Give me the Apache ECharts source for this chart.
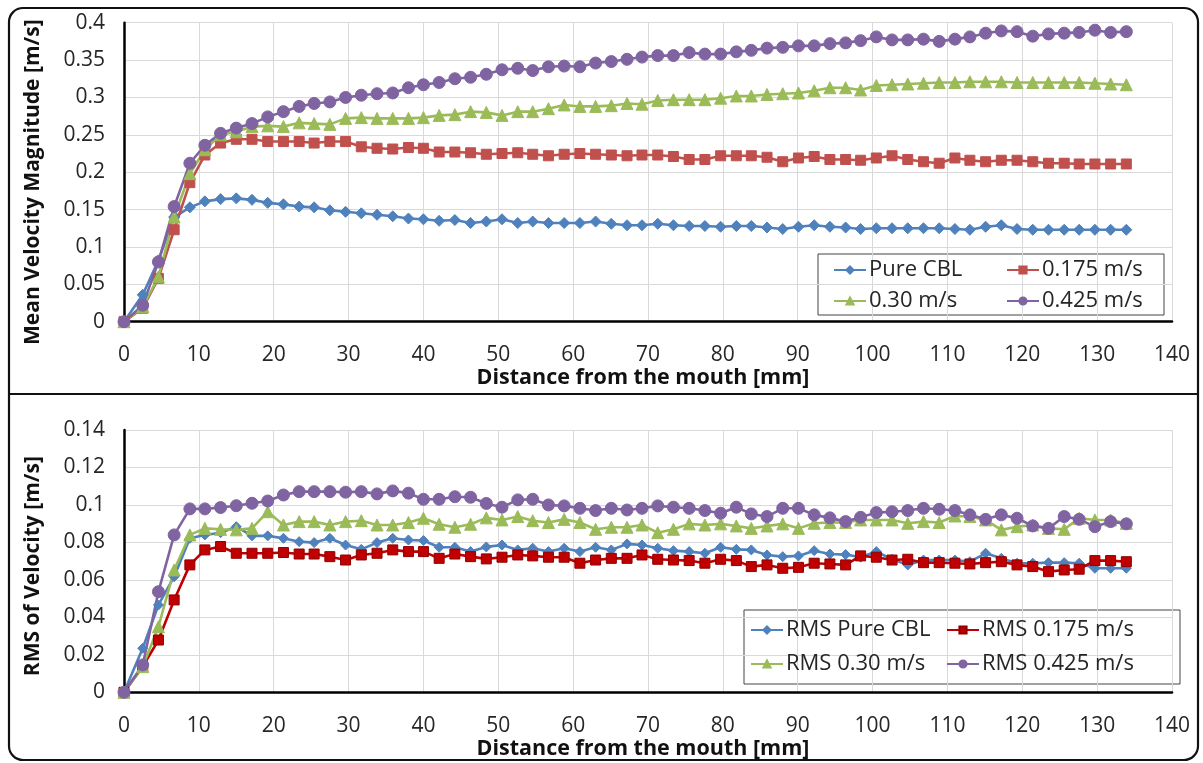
<!DOCTYPE html>
<html>
<head>
<meta charset="utf-8">
<script src="https://cdn.jsdelivr.net/npm/echarts@6/dist/echarts.min.js"></script>
<style>
html,body{margin:0;padding:0;background:#fff;}
#chart{width:1203px;height:763px;}
</style>
</head>
<body>
<div id="chart"></div>
<script>
// Distance from the mouth [mm]
const distance = [0, 2.5, 4.6, 6.7, 8.8, 10.8, 12.9, 15.0, 17.1, 19.2, 21.3, 23.4, 25.4, 27.5, 29.6, 31.7, 33.8, 35.9, 38.0, 40.0, 42.1, 44.2, 46.3, 48.4, 50.5, 52.6, 54.6, 56.7, 58.8, 60.9, 63.0, 65.1, 67.2, 69.2, 71.3, 73.4, 75.5, 77.6, 79.7, 81.8, 83.8, 85.9, 88.0, 90.1, 92.2, 94.3, 96.4, 98.4, 100.5, 102.6, 104.7, 106.8, 108.9, 111.0, 113.0, 115.1, 117.2, 119.3, 121.4, 123.5, 125.6, 127.6, 129.7, 131.8, 133.9];

// Mean velocity magnitude [m/s]
const meanPureCBL = [0, 0.036, 0.082, 0.140, 0.153, 0.161, 0.164, 0.165, 0.163, 0.159, 0.157, 0.154, 0.153, 0.149, 0.147, 0.145, 0.143, 0.141, 0.138, 0.137, 0.135, 0.136, 0.132, 0.134, 0.137, 0.132, 0.134, 0.132, 0.132, 0.132, 0.134, 0.131, 0.129, 0.129, 0.131, 0.129, 0.128, 0.128, 0.127, 0.128, 0.128, 0.126, 0.124, 0.127, 0.129, 0.127, 0.126, 0.124, 0.125, 0.125, 0.125, 0.125, 0.125, 0.124, 0.123, 0.127, 0.129, 0.124, 0.123, 0.123, 0.123, 0.123, 0.123, 0.123, 0.123];
const mean0175 = [0, 0.018, 0.058, 0.123, 0.186, 0.223, 0.239, 0.244, 0.244, 0.241, 0.241, 0.241, 0.239, 0.241, 0.241, 0.234, 0.232, 0.231, 0.233, 0.232, 0.227, 0.227, 0.226, 0.224, 0.225, 0.226, 0.224, 0.222, 0.224, 0.225, 0.224, 0.223, 0.222, 0.223, 0.223, 0.221, 0.217, 0.217, 0.222, 0.222, 0.222, 0.220, 0.214, 0.219, 0.221, 0.217, 0.217, 0.216, 0.219, 0.222, 0.217, 0.214, 0.212, 0.219, 0.216, 0.214, 0.216, 0.216, 0.214, 0.212, 0.212, 0.211, 0.211, 0.211, 0.211];
const mean030 = [0, 0.020, 0.060, 0.140, 0.198, 0.230, 0.250, 0.254, 0.261, 0.262, 0.261, 0.266, 0.265, 0.264, 0.272, 0.273, 0.272, 0.272, 0.272, 0.273, 0.276, 0.277, 0.281, 0.280, 0.276, 0.281, 0.281, 0.285, 0.290, 0.288, 0.288, 0.289, 0.292, 0.291, 0.296, 0.297, 0.297, 0.297, 0.299, 0.302, 0.302, 0.304, 0.305, 0.306, 0.309, 0.313, 0.313, 0.310, 0.316, 0.317, 0.318, 0.319, 0.320, 0.320, 0.321, 0.321, 0.321, 0.320, 0.320, 0.320, 0.320, 0.320, 0.319, 0.318, 0.317];
const mean0425 = [0, 0.022, 0.080, 0.154, 0.212, 0.236, 0.252, 0.259, 0.265, 0.274, 0.281, 0.288, 0.292, 0.294, 0.300, 0.303, 0.305, 0.306, 0.313, 0.317, 0.320, 0.325, 0.327, 0.331, 0.337, 0.339, 0.336, 0.341, 0.342, 0.341, 0.346, 0.348, 0.351, 0.354, 0.356, 0.356, 0.360, 0.358, 0.358, 0.361, 0.363, 0.366, 0.367, 0.369, 0.369, 0.372, 0.373, 0.376, 0.381, 0.377, 0.377, 0.378, 0.375, 0.378, 0.381, 0.386, 0.389, 0.388, 0.382, 0.385, 0.386, 0.387, 0.390, 0.387, 0.388];

// RMS of velocity [m/s]
const rmsPureCBL = [0, 0.0235, 0.0466, 0.0617, 0.0822, 0.0840, 0.0852, 0.0884, 0.0835, 0.0835, 0.0822, 0.0804, 0.0799, 0.0822, 0.0786, 0.0763, 0.0799, 0.0822, 0.0813, 0.0810, 0.0774, 0.0774, 0.0751, 0.0776, 0.0786, 0.0760, 0.0769, 0.0751, 0.0769, 0.0751, 0.0774, 0.0760, 0.0792, 0.0786, 0.0769, 0.0756, 0.0751, 0.0742, 0.0774, 0.0763, 0.0760, 0.0733, 0.0724, 0.0728, 0.0756, 0.0738, 0.0735, 0.0721, 0.0751, 0.0710, 0.0680, 0.0706, 0.0706, 0.0706, 0.0697, 0.0742, 0.0715, 0.0689, 0.0689, 0.0692, 0.0692, 0.0689, 0.0662, 0.0662, 0.0662];
const rms0175 = [0, 0.0137, 0.0279, 0.0493, 0.0680, 0.0760, 0.0778, 0.0742, 0.0742, 0.0742, 0.0746, 0.0738, 0.0738, 0.0724, 0.0706, 0.0733, 0.0742, 0.0760, 0.0751, 0.0751, 0.0715, 0.0738, 0.0724, 0.0712, 0.0721, 0.0733, 0.0728, 0.0721, 0.0721, 0.0689, 0.0706, 0.0715, 0.0715, 0.0733, 0.0710, 0.0706, 0.0703, 0.0689, 0.0710, 0.0703, 0.0671, 0.0680, 0.0662, 0.0667, 0.0689, 0.0685, 0.0680, 0.0728, 0.0721, 0.0706, 0.0710, 0.0692, 0.0692, 0.0689, 0.0685, 0.0692, 0.0697, 0.0680, 0.0671, 0.0644, 0.0653, 0.0657, 0.0703, 0.0703, 0.0697];
const rms030 = [0, 0.0137, 0.0350, 0.0653, 0.0840, 0.0875, 0.0870, 0.0867, 0.0875, 0.0964, 0.0893, 0.0911, 0.0911, 0.0893, 0.0911, 0.0916, 0.0893, 0.0893, 0.0906, 0.0929, 0.0897, 0.0881, 0.0897, 0.0931, 0.0920, 0.0938, 0.0916, 0.0906, 0.0923, 0.0906, 0.0870, 0.0881, 0.0881, 0.0893, 0.0852, 0.0870, 0.0899, 0.0893, 0.0899, 0.0888, 0.0875, 0.0888, 0.0899, 0.0875, 0.0902, 0.0906, 0.0906, 0.0920, 0.0920, 0.0920, 0.0902, 0.0911, 0.0906, 0.0941, 0.0938, 0.0920, 0.0867, 0.0884, 0.0893, 0.0875, 0.0870, 0.0929, 0.0920, 0.0920, 0.0902];
const rms0425 = [0, 0.0146, 0.0537, 0.0840, 0.0979, 0.0979, 0.0986, 0.0996, 0.1009, 0.1021, 0.1053, 0.1071, 0.1071, 0.1071, 0.1068, 0.1071, 0.1059, 0.1075, 0.1063, 0.1030, 0.1030, 0.1044, 0.1041, 0.1008, 0.0988, 0.1027, 0.1030, 0.1000, 0.0995, 0.0982, 0.0970, 0.0982, 0.0973, 0.0982, 0.0995, 0.0988, 0.0982, 0.0970, 0.0956, 0.0988, 0.0952, 0.0938, 0.0982, 0.0982, 0.0947, 0.0931, 0.0911, 0.0934, 0.0959, 0.0964, 0.0970, 0.0982, 0.0977, 0.0970, 0.0947, 0.0923, 0.0947, 0.0929, 0.0888, 0.0875, 0.0938, 0.0923, 0.0884, 0.0911, 0.0899];

const meanNames = ['Pure CBL', '0.175 m/s', '0.30 m/s', '0.425 m/s'];
const rmsNames = ['RMS Pure CBL', 'RMS 0.175 m/s', 'RMS 0.30 m/s', 'RMS 0.425 m/s'];
const xTitle = 'Distance from the mouth [mm]';
const yTitleTop = 'Mean Velocity Magnitude [m/s]';
const yTitleBottom = 'RMS of Velocity [m/s]';

const FONT = 'Open Sans';
const TXT = '#262626';
const pair = (ys) => distance.map((x, i) => [x, ys[i]]);

function lineSeries(name, ys, color, symbol, size, axis, borderColor) {
  return {
    name: name, type: 'line', data: pair(ys),
    xAxisIndex: axis, yAxisIndex: axis,
    symbol: symbol, symbolSize: size, showSymbol: true,
    lineStyle: { color: color, width: 2.6 },
    itemStyle: { color: color, borderColor: borderColor || color, borderWidth: 1 },
    emphasis: { disabled: true }
  };
}

function xAxisDef(idx) {
  return {
    type: 'value', gridIndex: idx, min: 0, max: 140, interval: 10,
    name: xTitle, nameLocation: 'middle', nameGap: idx === 0 ? 45 : 46,
    nameTextStyle: { fontFamily: FONT, fontWeight: 'bold', fontSize: 21.5, color: '#111', padding: [0, 10, 0, 0] },
    axisLine: { show: true, onZero: false, lineStyle: { color: '#000', width: 2.5 } },
    axisTick: { show: false },
    axisLabel: { margin: 23, fontFamily: FONT, fontSize: 21, color: TXT },
    splitLine: { show: true, lineStyle: { color: '#d9d9d9', width: 1 } }
  };
}

function yAxisDef(idx, max, interval, title, shift) {
  return {
    type: 'value', gridIndex: idx, min: 0, max: max, interval: interval,
    name: title, nameLocation: 'middle', nameRotate: 90, nameGap: 80,
    nameTextStyle: { fontFamily: FONT, fontWeight: 'bold', fontSize: 21, color: '#111', padding: [0, shift, 0, 0] },
    axisLine: { show: true, lineStyle: { color: '#000', width: 2.5 } },
    axisTick: { show: false },
    axisLabel: { margin: 19, fontFamily: FONT, fontSize: 21, color: TXT },
    splitLine: { show: true, lineStyle: { color: '#d9d9d9', width: 1 } }
  };
}

function legendDef(name, left, centerY) {
  return {
    data: [name], left: left, top: centerY - 13, padding: 0,
    itemWidth: 32, itemHeight: 9, itemGap: 5, selectedMode: false,
    lineStyle: { width: 2 },
    textStyle: { fontFamily: FONT, fontSize: 22, color: TXT, lineHeight: 26, padding: [0, 0, 0, -2] }
  };
}

const colors = { blue: '#4F81BD', red: '#C0504D', green: '#9BBB59', purple: '#8064A2', darkRed: '#C00000' };

const option = {
  animation: false,
  backgroundColor: '#fff',
  grid: [
    { left: 124, top: 22.7, width: 1048, height: 299 },
    { left: 124, top: 430, width: 1048, height: 262.3 }
  ],
  xAxis: [xAxisDef(0), xAxisDef(1)],
  yAxis: [yAxisDef(0, 0.4, 0.05, yTitleTop, 20), yAxisDef(1, 0.14, 0.02, yTitleBottom, 10)],
  legend: [
    legendDef(meanNames[0], 833, 270), legendDef(meanNames[1], 1006, 270),
    legendDef(meanNames[2], 833, 301), legendDef(meanNames[3], 1006, 301),
    legendDef(rmsNames[0], 750, 630), legendDef(rmsNames[1], 946, 630),
    legendDef(rmsNames[2], 750, 664), legendDef(rmsNames[3], 946, 664)
  ],
  graphic: [
    { type: 'rect', z: -1, shape: { x: 818, y: 254, width: 346, height: 61 }, style: { fill: '#fff', stroke: '#444', lineWidth: 1 } },
    { type: 'rect', z: -1, shape: { x: 744, y: 610, width: 436, height: 74 }, style: { fill: '#fff', stroke: '#444', lineWidth: 1 } },
    { type: 'rect', z: 100, silent: true, shape: { x: 9, y: 8, width: 1189, height: 752, r: 14 }, style: { fill: 'none', stroke: '#111', lineWidth: 2.2 } },
    { type: 'line', z: 100, silent: true, shape: { x1: 9, y1: 394, x2: 1198, y2: 394 }, style: { stroke: '#111', lineWidth: 2.2 } }
  ],
  series: [
    lineSeries(meanNames[0], meanPureCBL, colors.blue, 'diamond', 11, 0),
    lineSeries(meanNames[1], mean0175, colors.red, 'rect', 10, 0),
    lineSeries(meanNames[2], mean030, colors.green, 'triangle', 12, 0),
    lineSeries(meanNames[3], mean0425, colors.purple, 'circle', 12, 0),
    lineSeries(rmsNames[0], rmsPureCBL, colors.blue, 'diamond', 10, 1),
    lineSeries(rmsNames[1], rms0175, colors.darkRed, 'rect', 10, 1, '#900000'),
    lineSeries(rmsNames[2], rms030, colors.green, 'triangle', 12, 1),
    lineSeries(rmsNames[3], rms0425, colors.purple, 'circle', 12, 1)
  ]
};

const chart = echarts.init(document.getElementById('chart'), null, { renderer: 'canvas' });
chart.setOption(option);
</script>
</body>
</html>
